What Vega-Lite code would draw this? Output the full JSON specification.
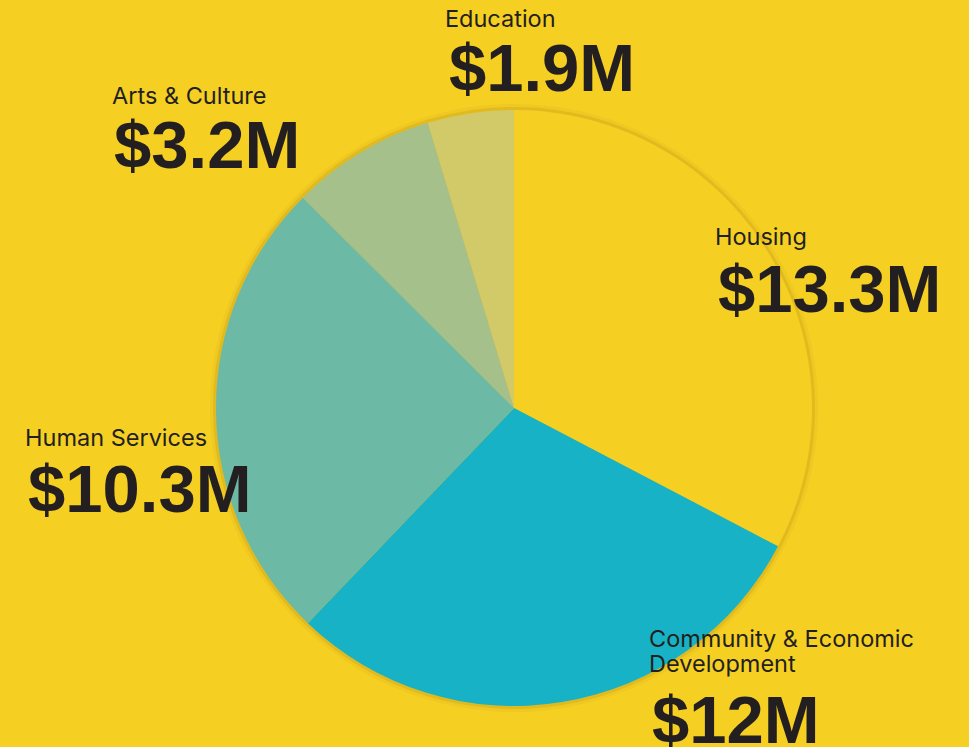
{
  "$schema": "https://vega.github.io/schema/vega-lite/v6.json",
  "autosize": {"type": "none"},
  "padding": {"left": 59, "top": 69, "right": 0, "bottom": 0},
  "width": 910,
  "height": 678,
  "background": "#F6CF23",
  "config": {"view": {"stroke": null}, "text": {"font": "Inter", "color": "#231F20"}},
  "data": {"values": [
    {"rank": 1, "cat": "Housing", "name": "Housing", "value": 13.3, "amount": "$13.3M"},
    {"rank": 2, "cat": "Community & Economic Development", "name": "Community & Economic\nDevelopment", "value": 12, "amount": "$12M"},
    {"rank": 3, "cat": "Human Services", "name": "Human Services", "value": 10.3, "amount": "$10.3M"},
    {"rank": 4, "cat": "Arts & Culture", "name": "Arts & Culture", "value": 3.2, "amount": "$3.2M"},
    {"rank": 5, "cat": "Education", "name": "Education", "value": 1.9, "amount": "$1.9M"}
  ]},
  "encoding": {
    "theta": {"field": "value", "type": "quantitative", "stack": true},
    "order": {"field": "rank", "type": "quantitative"}
  },
  "layer": [
    {
      "mark": {"type": "arc", "radius": 304, "theta": 0, "theta2": 6.2832, "fill": "#C9A41A", "opacity": 0.15},
      "encoding": {}
    },
    {
      "mark": {"type": "arc", "radius": 301, "theta": 0, "theta2": 6.2832, "fill": "#C9A41A", "opacity": 0.35},
      "encoding": {}
    },
    {
      "mark": {"type": "arc", "radius": 298},
      "encoding": {
        "color": {"field": "cat", "type": "nominal", "legend": null,
          "scale": {"domain": ["Housing", "Community & Economic Development", "Human Services", "Arts & Culture", "Education"],
                    "range": ["#F6CF23", "#17B2C5", "#6CB9A5", "#A5C08A", "#D2CA68"]}}
      }
    },
    {"mark": {"type": "text", "radius": 298, "align": "left", "baseline": "alphabetic", "fontSize": 23.5, "dx": -54, "dy": -8.8},
     "encoding": {"detail": {"field": "cat"}, "text": {"condition": {"test": "datum.rank === 1", "field": "name"}, "value": ""}}},
    {"mark": {"type": "text", "radius": 298, "align": "left", "baseline": "alphabetic", "font": "Liberation Sans", "fontSize": 67, "fontWeight": "bold", "dx": -51, "dy": 58.2},
     "encoding": {"detail": {"field": "cat"}, "text": {"condition": {"test": "datum.rank === 1", "field": "amount"}, "value": ""}}},
    {"mark": {"type": "text", "radius": 298, "align": "left", "baseline": "alphabetic", "fontSize": 23.5, "lineBreak": "\n", "lineHeight": 25, "dx": 86.9, "dy": -55.1},
     "encoding": {"detail": {"field": "cat"}, "text": {"condition": {"test": "datum.rank === 2", "field": "name"}, "value": ""}}},
    {"mark": {"type": "text", "radius": 298, "align": "left", "baseline": "alphabetic", "font": "Liberation Sans", "fontSize": 67, "fontWeight": "bold", "dx": 89.9, "dy": 40.9},
     "encoding": {"detail": {"field": "cat"}, "text": {"condition": {"test": "datum.rank === 2", "field": "amount"}, "value": ""}}},
    {"mark": {"type": "text", "radius": 298, "align": "left", "baseline": "alphabetic", "fontSize": 23.5, "dx": -191, "dy": 34.5},
     "encoding": {"detail": {"field": "cat"}, "text": {"condition": {"test": "datum.rank === 3", "field": "name"}, "value": ""}}},
    {"mark": {"type": "text", "radius": 298, "align": "left", "baseline": "alphabetic", "font": "Liberation Sans", "fontSize": 67, "fontWeight": "bold", "dx": -188, "dy": 100.5},
     "encoding": {"detail": {"field": "cat"}, "text": {"condition": {"test": "datum.rank === 3", "field": "amount"}, "value": ""}}},
    {"mark": {"type": "text", "radius": 298, "align": "left", "baseline": "alphabetic", "fontSize": 23.5, "dx": -248.7, "dy": -48.5},
     "encoding": {"detail": {"field": "cat"}, "text": {"condition": {"test": "datum.rank === 4", "field": "name"}, "value": ""}}},
    {"mark": {"type": "text", "radius": 298, "align": "left", "baseline": "alphabetic", "font": "Liberation Sans", "fontSize": 67, "fontWeight": "bold", "dx": -246.7, "dy": 15.5},
     "encoding": {"detail": {"field": "cat"}, "text": {"condition": {"test": "datum.rank === 4", "field": "amount"}, "value": ""}}},
    {"mark": {"type": "text", "radius": 298, "align": "left", "baseline": "alphabetic", "fontSize": 23.5, "dx": -25.5, "dy": -86.2},
     "encoding": {"detail": {"field": "cat"}, "text": {"condition": {"test": "datum.rank === 5", "field": "name"}, "value": ""}}},
    {"mark": {"type": "text", "radius": 298, "align": "left", "baseline": "alphabetic", "font": "Liberation Sans", "fontSize": 67, "fontWeight": "bold", "dx": -21.5, "dy": -22.2},
     "encoding": {"detail": {"field": "cat"}, "text": {"condition": {"test": "datum.rank === 5", "field": "amount"}, "value": ""}}}
  ]
}
